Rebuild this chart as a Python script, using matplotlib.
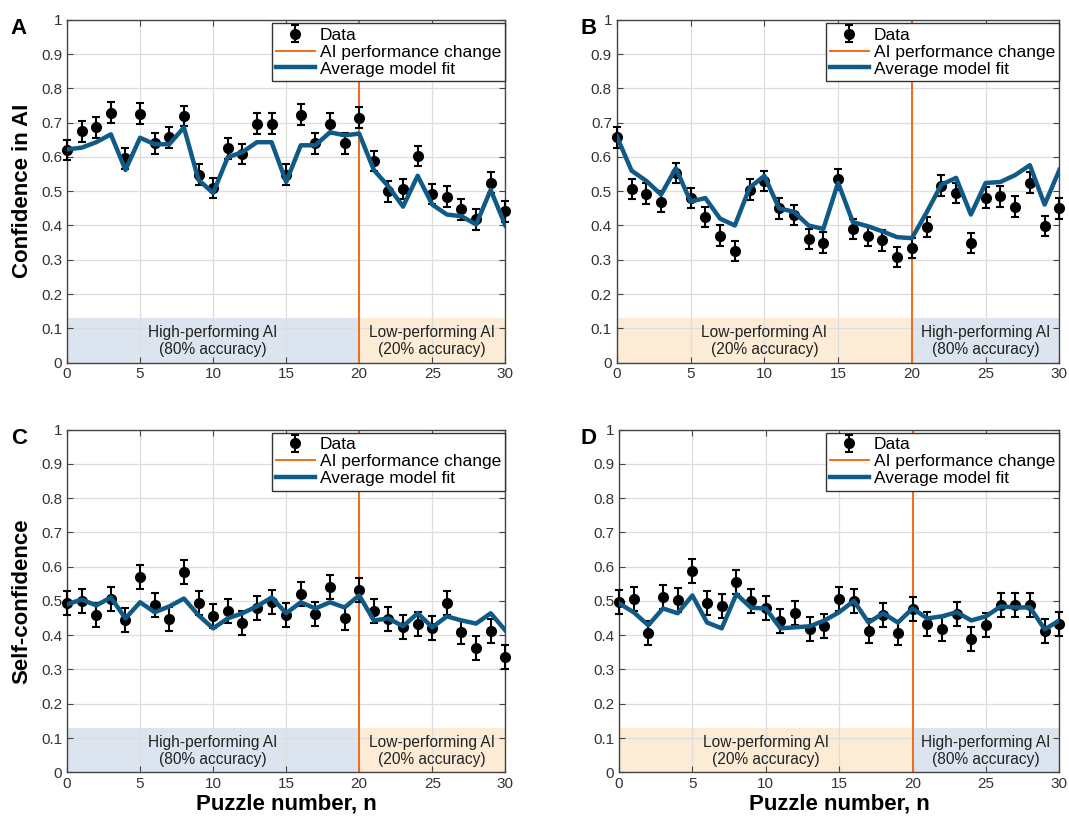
import matplotlib.pyplot as plt
import numpy as np
from matplotlib.ticker import FuncFormatter

plt.rcParams['font.family'] = ['Liberation Sans', 'DejaVu Sans']

puzzle = list(range(31))

# panel A: confidence in AI, high -> low
data_a = [0.62, 0.675, 0.686, 0.729, 0.596, 0.726, 0.64, 0.657, 0.72, 0.548, 0.51,
          0.625, 0.608, 0.697, 0.697, 0.548, 0.723, 0.64, 0.697, 0.64, 0.715,
          0.588, 0.50, 0.507, 0.603, 0.492, 0.484, 0.447, 0.418, 0.525, 0.441]
fit_a = [0.622, 0.627, 0.643, 0.666, 0.562, 0.656, 0.637, 0.637, 0.686, 0.533, 0.495,
         0.599, 0.614, 0.643, 0.643, 0.527, 0.634, 0.634, 0.672, 0.663, 0.668,
         0.562, 0.514, 0.455, 0.545, 0.461, 0.432, 0.427, 0.403, 0.504, 0.40]

# panel B: confidence in AI, low -> high
data_b = [0.657, 0.507, 0.493, 0.47, 0.553, 0.48, 0.425, 0.37, 0.325, 0.505, 0.53,
          0.45, 0.43, 0.36, 0.35, 0.535, 0.39, 0.369, 0.357, 0.308, 0.334,
          0.395, 0.516, 0.495, 0.349, 0.481, 0.485, 0.455, 0.525, 0.398, 0.45]
fit_b = [0.66, 0.56, 0.53, 0.49, 0.567, 0.47, 0.48, 0.42, 0.40, 0.51, 0.545,
         0.45, 0.44, 0.40, 0.39, 0.525, 0.41, 0.398, 0.383, 0.366, 0.363,
         0.438, 0.519, 0.539, 0.432, 0.524, 0.527, 0.547, 0.576, 0.461, 0.562]

# panel C: self-confidence, high -> low
data_c = [0.494, 0.50, 0.46, 0.507, 0.443, 0.571, 0.487, 0.446, 0.583, 0.493, 0.455,
          0.47, 0.437, 0.478, 0.496, 0.458, 0.519, 0.461, 0.54, 0.449, 0.532,
          0.47, 0.446, 0.423, 0.434, 0.42, 0.493, 0.408, 0.364, 0.411, 0.335]
fit_c = [0.49, 0.504, 0.487, 0.51, 0.449, 0.496, 0.467, 0.484, 0.507, 0.458, 0.42,
         0.449, 0.464, 0.484, 0.51, 0.464, 0.496, 0.478, 0.496, 0.481, 0.516,
         0.443, 0.449, 0.426, 0.464, 0.423, 0.455, 0.443, 0.434, 0.464, 0.414]

# panel D: self-confidence, low -> high
data_d = [0.496, 0.507, 0.405, 0.51, 0.504, 0.586, 0.493, 0.484, 0.554, 0.50, 0.48,
          0.44, 0.466, 0.417, 0.426, 0.507, 0.50, 0.411, 0.458, 0.405, 0.475,
          0.434, 0.417, 0.461, 0.388, 0.429, 0.487, 0.487, 0.487, 0.411, 0.434]
fit_d = [0.493, 0.467, 0.429, 0.478, 0.464, 0.516, 0.437, 0.42, 0.52, 0.48, 0.478,
         0.42, 0.423, 0.426, 0.443, 0.467, 0.50, 0.437, 0.464, 0.437, 0.478,
         0.449, 0.455, 0.467, 0.443, 0.455, 0.484, 0.481, 0.481, 0.417, 0.443]

err_conf_ai = 0.03
err_self = 0.035

switch_n = 20
high_label = 'High-performing AI\n(80% accuracy)'
low_label = 'Low-performing AI\n(20% accuracy)'

FIT_COLOR = '#0f5a86'
CHANGE_COLOR = '#f26a1b'
HIGH_SHADE = '#dce5ef'
LOW_SHADE = '#fcecd6'


def draw_panel(ax, data, fit, err, first_high):
    first_col, second_col = (HIGH_SHADE, LOW_SHADE) if first_high else (LOW_SHADE, HIGH_SHADE)
    first_txt, second_txt = (high_label, low_label) if first_high else (low_label, high_label)
    ax.axvspan(0, switch_n, ymin=0, ymax=0.13, color=first_col, lw=0, zorder=0)
    ax.axvspan(switch_n, 30, ymin=0, ymax=0.13, color=second_col, lw=0, zorder=0)
    ax.text(switch_n / 2, 0.063, first_txt, ha='center', va='center', fontsize=11.2,
            color='#222222', linespacing=1.15, zorder=1)
    ax.text((switch_n + 30) / 2, 0.063, second_txt, ha='center', va='center', fontsize=11.2,
            color='#222222', linespacing=1.15, zorder=1)

    h_data = ax.errorbar(puzzle, data, yerr=err, fmt='o', color='black', ms=7, capsize=3,
                         elinewidth=1.5, capthick=1.5, label='Data', zorder=3, clip_on=False)
    h_change = ax.axvline(switch_n, color=CHANGE_COLOR, lw=1.4, label='AI performance change', zorder=2)
    h_fit, = ax.plot(puzzle, fit, color=FIT_COLOR, lw=3.2, label='Average model fit', zorder=4)

    ax.set_xlim(0, 30)
    ax.set_ylim(0, 1)
    ax.set_xticks(range(0, 31, 5))
    ax.set_yticks(np.arange(0, 1.01, 0.1))
    ax.yaxis.set_major_formatter(FuncFormatter(lambda v, p: '{:g}'.format(round(v, 1))))
    ax.tick_params(direction='in', top=True, right=True, labelsize=11,
                   labelcolor='#333333', length=4, color='#444444')
    ax.grid(True, color='#dddddd', lw=0.9)
    ax.set_axisbelow(True)
    for s in ax.spines.values():
        s.set_color('#444444')
        s.set_linewidth(1.0)
    leg = ax.legend([h_data, h_change, h_fit],
                    ['Data', 'AI performance change', 'Average model fit'],
                    loc='upper right', bbox_to_anchor=(1.0, 0.99), fontsize=12.5,
                    frameon=True, fancybox=False, borderpad=0.25, labelspacing=0.1,
                    handlelength=2.2, handletextpad=0.3, borderaxespad=0.0)
    leg.get_frame().set_edgecolor('#333333')
    leg.get_frame().set_linewidth(1.0)
    leg.get_frame().set_alpha(1.0)
    leg.set_zorder(6)


fig = plt.figure(figsize=(10.69, 8.26), dpi=100)
ax_a = fig.add_axes([0.0627, 0.561, 0.41, 0.415])
ax_b = fig.add_axes([0.577, 0.561, 0.414, 0.415])
ax_c = fig.add_axes([0.0627, 0.065, 0.41, 0.415])
ax_d = fig.add_axes([0.579, 0.065, 0.412, 0.415])

draw_panel(ax_a, data_a, fit_a, err_conf_ai, True)
draw_panel(ax_b, data_b, fit_b, err_conf_ai, False)
draw_panel(ax_c, data_c, fit_c, err_self, True)
draw_panel(ax_d, data_d, fit_d, err_self, False)

ax_a.set_ylabel('Confidence in AI', fontsize=16, fontweight='bold', labelpad=6)
ax_c.set_ylabel('Self-confidence', fontsize=16, fontweight='bold', labelpad=6)
ax_c.set_xlabel('Puzzle number, n', fontsize=16, fontweight='bold', labelpad=2)
ax_d.set_xlabel('Puzzle number, n', fontsize=16, fontweight='bold', labelpad=2)

for lab, x, y in [('A', 0.010, 0.978), ('B', 0.543, 0.978), ('C', 0.010, 0.482), ('D', 0.543, 0.482)]:
    fig.text(x, y, lab, fontsize=16, fontweight='bold', va='top')

fig.savefig('out.png', dpi=100)
